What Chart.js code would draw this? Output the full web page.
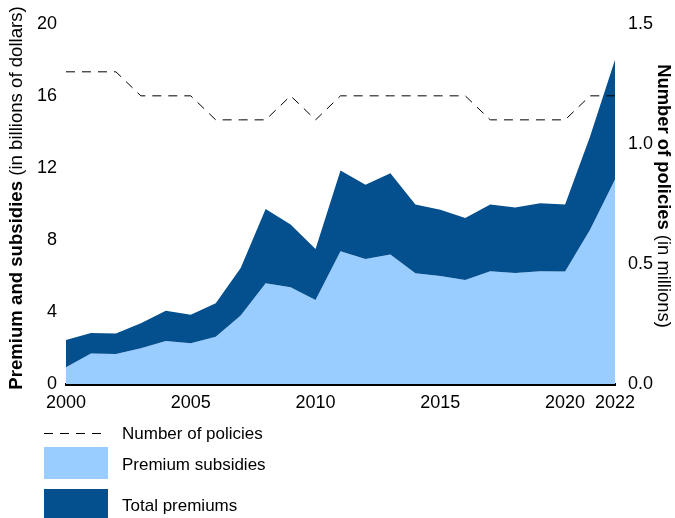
<!DOCTYPE html>
<html><head><meta charset="utf-8">
<script src="https://cdn.jsdelivr.net/npm/chart.js@4/dist/chart.umd.min.js"></script>
<style>html,body{margin:0;padding:0;background:#fff}#wrap{width:675px;height:518px;position:relative}</style>
</head><body><div id="wrap"><canvas id="c" width="675" height="518"></canvas></div>
<script>
const years = ['2000','2001','2002','2003','2004','2005','2006','2007','2008','2009','2010','2011','2012','2013','2014','2015','2016','2017','2018','2019','2020','2021','2022'];
const shownYears = ['2000','2005','2010','2015','2020','2022'];
const premiumSubsidies = [0.93,1.70,1.67,1.98,2.39,2.26,2.63,3.80,5.59,5.37,4.67,7.37,6.94,7.19,6.15,6.00,5.78,6.26,6.17,6.26,6.24,8.56,11.35];
const totalPremiums = [2.44,2.83,2.81,3.37,4.07,3.85,4.48,6.44,9.72,8.85,7.50,11.85,11.06,11.70,9.96,9.67,9.22,9.96,9.80,10.04,9.96,13.74,18.00];
const numberOfPolicies = [1.3,1.3,1.3,1.2,1.2,1.2,1.1,1.1,1.1,1.2,1.1,1.2,1.2,1.2,1.2,1.2,1.2,1.1,1.1,1.1,1.1,1.2,1.2];
const leftTicks = [0,4,8,12,16,20];
const rightTicks = [0,0.5,1.0,1.5];

const LIGHT = '#99CCFF', DARK = '#04508F';
const FONT = '"Liberation Sans", Arial, sans-serif';

const extras = {
  id: 'extras',
  afterDraw(chart) {
    const ctx = chart.ctx;
    ctx.save();
    ctx.fillStyle = '#000';
    ctx.textBaseline = 'middle';
    const b1 = 'Premium and subsidies', n1 = ' (in billions of dollars)';
    ctx.font = 'bold 18.6px ' + FONT;
    const wb1 = ctx.measureText(b1).width;
    ctx.font = '18.6px ' + FONT;
    const wn1 = ctx.measureText(n1).width;
    ctx.translate(17, 198);
    ctx.rotate(-Math.PI / 2);
    let sx = -(wb1 + wn1) / 2;
    ctx.textAlign = 'left';
    ctx.font = 'bold 18.6px ' + FONT;
    ctx.fillText(b1, sx, 0);
    ctx.font = '18.6px ' + FONT;
    ctx.fillText(n1, sx + wb1, 0);
    ctx.restore();
    ctx.save();
    ctx.fillStyle = '#000';
    ctx.textBaseline = 'middle';
    const b2 = 'Number of policies', n2 = ' (in millions)';
    ctx.font = 'bold 18.4px ' + FONT;
    const wb2 = ctx.measureText(b2).width;
    ctx.font = '18.4px ' + FONT;
    const wn2 = ctx.measureText(n2).width;
    ctx.translate(663, 196);
    ctx.rotate(Math.PI / 2);
    sx = -(wb2 + wn2) / 2;
    ctx.textAlign = 'left';
    ctx.font = 'bold 18.4px ' + FONT;
    ctx.fillText(b2, sx, 0);
    ctx.font = '18.4px ' + FONT;
    ctx.fillText(n2, sx + wb2, 0);
    ctx.restore();
    ctx.save();
    ctx.strokeStyle = '#000';
    ctx.lineWidth = 1;
    ctx.setLineDash([9, 7]);
    ctx.beginPath();
    ctx.moveTo(44, 433.5); ctx.lineTo(108, 433.5);
    ctx.stroke();
    ctx.setLineDash([]);
    ctx.fillStyle = LIGHT;
    ctx.fillRect(44, 447, 64, 32);
    ctx.fillStyle = DARK;
    ctx.fillRect(44, 489, 64, 32);
    ctx.fillStyle = '#000';
    ctx.font = '17px ' + FONT;
    ctx.textAlign = 'left';
    ctx.textBaseline = 'middle';
    ctx.fillText('Number of policies', 122, 434);
    ctx.fillText('Premium subsidies', 122, 465);
    ctx.fillText('Total premiums', 122, 506);
    ctx.restore();
  }
};

new Chart(document.getElementById('c'), {
  type: 'line',
  data: {
    labels: years,
    datasets: [
      { label: 'Number of policies', data: numberOfPolicies, yAxisID: 'y1', borderColor: '#000', borderWidth: 1, borderDash: [9, 7], pointRadius: 0, fill: false, tension: 0, order: 0 },
      { label: 'Premium subsidies', data: premiumSubsidies, yAxisID: 'y', borderWidth: 0, borderColor: LIGHT, backgroundColor: LIGHT, pointRadius: 0, fill: 'origin', tension: 0, order: 2 },
      { label: 'Total premiums', data: totalPremiums, yAxisID: 'y', borderWidth: 0, borderColor: DARK, backgroundColor: DARK, pointRadius: 0, fill: '-1', tension: 0, order: 1 }
    ]
  },
  options: {
    responsive: false,
    animation: false,
    layout: { padding: { top: 23, left: 0, right: 0, bottom: 0 } },
    plugins: { legend: { display: false }, tooltip: { enabled: false } },
    scales: {
      x: {
        type: 'category',
        offset: false,
        grid: { display: false, drawTicks: false },
        border: { display: true, color: '#000', width: 3 },
        ticks: {
          autoSkip: false, maxRotation: 0, padding: 8, color: '#000',
          font: { size: 18, family: FONT },
          callback: function(v) { const l = this.getLabelForValue(v); return shownYears.includes(l) ? l : ''; }
        },
        afterFit(s) { s.height = 518 - 384; }
      },
      y: {
        position: 'left', min: 0, max: 20,
        grid: { display: false, drawTicks: false }, border: { display: false },
        afterBuildTicks(s) { s.ticks = leftTicks.map(v => ({ value: v })); },
        ticks: { color: '#000', padding: 9, font: { size: 18, family: FONT } },
        afterFit(s) { s.width = 66; }
      },
      y1: {
        position: 'right', min: 0, max: 1.5,
        grid: { display: false, drawTicks: false }, border: { display: false },
        afterBuildTicks(s) { s.ticks = rightTicks.map(v => ({ value: v })); },
        ticks: { color: '#000', padding: 13, font: { size: 18, family: FONT }, callback: v => Number(v).toFixed(1) },
        afterFit(s) { s.width = 60; }
      }
    }
  },
  plugins: [extras]
});
</script></body></html>
